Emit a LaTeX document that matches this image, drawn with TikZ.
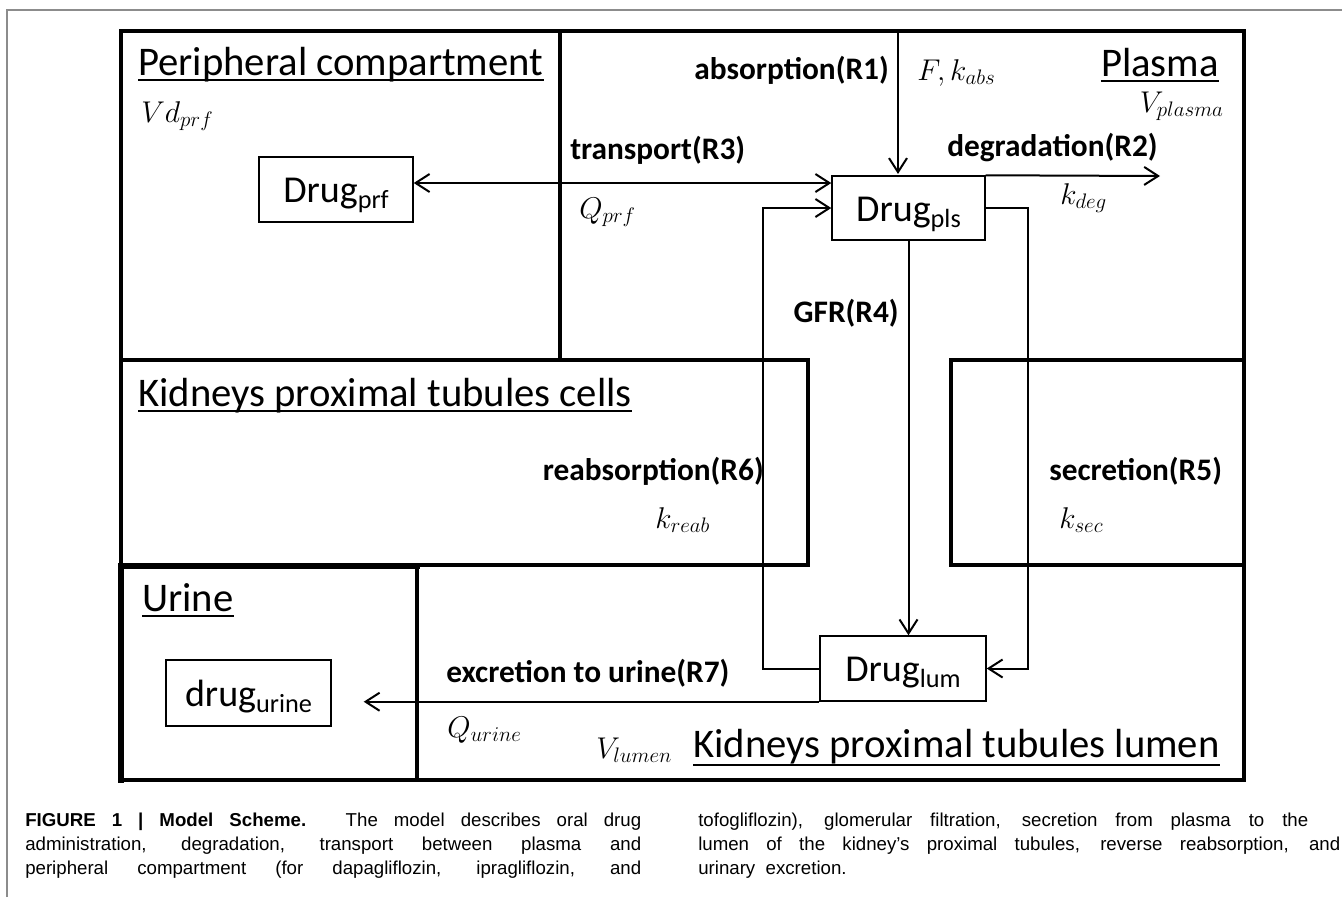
\RequirePackage{fix-cm}
\documentclass[tikz,border=0pt]{standalone}
\usepackage{fontspec}
\setmainfont{Carlito}
\newfontfamily\capfont{Liberation Sans}
\usetikzlibrary{arrows.meta,calc}
\newcommand\dsub[1]{\raisebox{-4.5pt}{\fontsize{19.7}{20}\selectfont #1}}
\begin{document}
\begin{tikzpicture}[x=0.75pt,y=-0.75pt,
  >={Straight Barb[length=10.5pt,width=13.5pt]},
  frame/.style={line width=2.7pt,line cap=rect},
  box/.style={draw,line width=1.1pt,inner sep=0pt,text height=26pt,text depth=6.5pt,font=\fontsize{28.5}{28.5}\selectfont},
  title/.style={inner sep=0pt,font=\fontsize{30.5}{30.5}\selectfont},
  lab/.style={inner sep=0pt,font=\bfseries\fontsize{23.5}{23.5}\selectfont},
  mth/.style={inner sep=0pt,font=\fontsize{22.5}{22.5}\selectfont},
  uline/.style={line width=1.1pt},
  conn/.style={line width=1.5pt},
  captext/.style={inner sep=0pt,font=\capfont\fontsize{14}{16}\selectfont}]
\useasboundingbox (0,0) rectangle (1342,897);
% outer gray page frame
\draw[black!45,line width=1.2pt] (7,897) -- (7,10) -- (1342,10);
% compartments
\draw[frame] (121,31) rectangle (1244,780);
\draw[frame] (560,31) -- (560,360);
\draw[frame] (121,360) -- (808,360) -- (808,565) -- (121,565);
\draw[frame] (1244,360) -- (951,360) -- (951,565) -- (1244,565);
\draw[frame] (417,565) -- (417,780);
\draw[line width=3.8pt,line cap=rect] (121,780) -- (121,566) -- (417,566);
% titles
\node[title,anchor=base west] (tperi) at (138,75) {Peripheral compartment};
\node[title,anchor=base east] (tplas) at (1219,76) {Plasma};
\node[title,anchor=base west] (tcell) at (138,406) {Kidneys proximal tubules cells};
\node[title,anchor=base west] (turin) at (142,611) {Urine};
\node[title,anchor=base east] (tlum) at (1220,757) {Kidneys proximal tubules lumen};
\foreach \t in {tperi,tplas,tcell,turin}
  \draw[uline] ($(\t.base west)+(0,5)$) -- ($(\t.base east)+(0,5)$);
\draw[uline] ($(tlum.base west)+(0,8)$) -- ($(tlum.base east)+(0,8)$);
% species
\node[box,minimum width=115.5pt,minimum height=48.75pt] (prf) at (336,189.5) {Drug\dsub{prf}};
\node[box,minimum width=114.75pt,minimum height=48pt] (pls) at (908.5,208) {Drug\dsub{pls}};
\node[box,minimum width=124.5pt,minimum height=48.75pt] (lum) at (903,668.5) {Drug\dsub{lum}};
\node[box,minimum width=123.75pt,minimum height=49.5pt] (uri) at (248.5,693) {drug\dsub{urine}};
% reaction labels
\node[lab,anchor=base east] (l1) at (889,79) {absorption(R1)};
\node[lab,anchor=base west] (l3) at (570,159) {transport(R3)};
\node[lab,anchor=base west] (l2) at (947,156) {degradation(R2)};
\node[lab,anchor=base east] (l4) at (899,322) {GFR(R4)};
\node[lab,anchor=base east] (l6) at (764,480) {reabsorption(R6)};
\node[lab,anchor=base west] (l5) at (1049,480) {secretion(R5)};
\node[lab,anchor=base west] (l7) at (446,682) {excretion to urine(R7)};
% parameters
\node[mth,anchor=base west] (p1) at (917,80) {$F,k_{abs}$};
\node[mth,anchor=base east] (pvp) at (1224,112) {$V_{plasma}$};
\node[mth,anchor=base west] (p2) at (1060,204) {$k_{deg}$};
\node[mth,anchor=base west] (p3) at (579,218) {$Q_{prf}$};
\node[mth,anchor=base west] (pvd) at (141,122) {$Vd_{prf}$};
\node[mth,anchor=base west] (p6) at (655,528) {$k_{reab}$};
\node[mth,anchor=base west] (p5) at (1059,528) {$k_{sec}$};
\node[mth,anchor=base west] (p7) at (447,737) {$Q_{urine}$};
\node[mth,anchor=base west] (pvl) at (596,758) {$V_{lumen}$};
% connectors
\coordinate (absTop) at (898,31);
\coordinate (trY) at (600,183);
\coordinate (degEnd) at (1160,176);
\draw[conn,->,shorten >=1pt] (absTop) -- (absTop |- pls.north);
\draw[conn,<->] (prf.east |- trY) -- (pls.west |- trY);
\draw[conn,->] (pls.north east) -- (degEnd);
\draw[conn,->] (pls.south) -- (pls.south |- lum.north);
\draw[conn,->] (lum.west) -- ++(-56,0) |- (pls.west);
\draw[conn,->] (pls.east) -- ++(42,0) |- (lum.east);
\draw[conn,->,shorten >=24pt] (lum.south west) -- (lum.south west -| uri.east);
% caption
\node[captext,anchor=base west] (c1) at (25,826) {\makebox[462pt][s]{\textbf{FIGURE 1 | Model Scheme.} The model describes oral drug}};
\node[captext,anchor=base west] (c2) at (25,850) {\makebox[462pt][s]{administration, degradation, transport between plasma and}};
\node[captext,anchor=base west] (c3) at (25,874) {\makebox[462pt][s]{peripheral compartment (for dapagliflozin, ipragliflozin, and}};
\node[captext,anchor=base west] (c4) at (698,826) {\makebox[457.5pt][s]{tofogliflozin), glomerular filtration, secretion from plasma to the}};
\node[captext,anchor=base west] (c5) at (698,850) {\makebox[481.5pt][s]{lumen of the kidney’s proximal tubules, reverse reabsorption, and}};
\node[captext,anchor=base west] (c6) at (698,874) {urinary\ \ excretion.};
\end{tikzpicture}
\end{document}
